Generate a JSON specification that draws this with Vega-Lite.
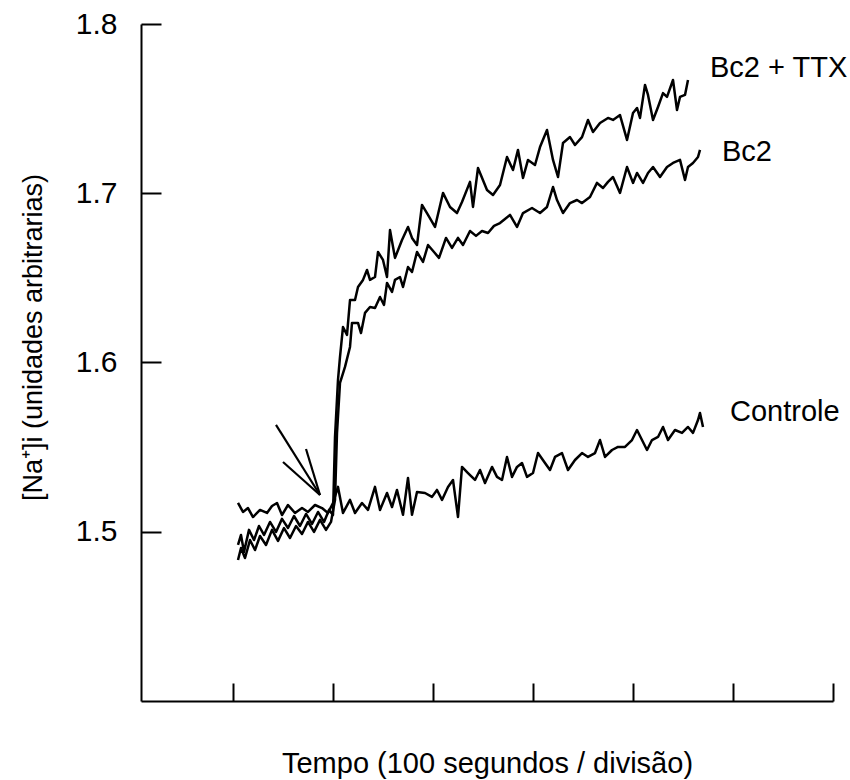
{
  "$schema": "https://vega.github.io/schema/vega-lite/v6.json",
  "width": 692,
  "height": 677,
  "autosize": {"type": "none"},
  "padding": {"left": 141, "top": 24, "right": 17, "bottom": 79},
  "background": "white",
  "config": {
    "view": {"stroke": null},
    "font": "Liberation Sans",
    "axis": {
      "grid": false,
      "domainColor": "black",
      "tickColor": "black",
      "labelColor": "black",
      "titleColor": "black",
      "domainWidth": 2,
      "tickWidth": 2,
      "labelFont": "Liberation Sans",
      "titleFont": "Liberation Sans",
      "titleFontWeight": "normal"
    }
  },
  "datasets": {
    "traces": [
      {"s":"c","t":5,"v":1.5170},{"s":"c","t":10,"v":1.5117},{"s":"c","t":15,"v":1.5140},{"s":"c","t":20,"v":1.5087},{"s":"c","t":27,"v":1.5129},{"s":"c","t":34,"v":1.5111},{"s":"c","t":39,"v":1.5152},{"s":"c","t":44,"v":1.5170},{"s":"c","t":49,"v":1.5099},{"s":"c","t":55,"v":1.5158},{"s":"c","t":62,"v":1.5111},{"s":"c","t":69,"v":1.5140},{"s":"c","t":75,"v":1.5117},{"s":"c","t":82,"v":1.5158},{"s":"c","t":89,"v":1.5140},{"s":"c","t":95,"v":1.5111},{"s":"c","t":100,"v":1.5170},{"s":"c","t":105,"v":1.5265},{"s":"c","t":110,"v":1.5111},{"s":"c","t":117,"v":1.5188},{"s":"c","t":122,"v":1.5111},{"s":"c","t":129,"v":1.5170},{"s":"c","t":135,"v":1.5129},{"s":"c","t":142,"v":1.5265},{"s":"c","t":147,"v":1.5129},{"s":"c","t":154,"v":1.5229},{"s":"c","t":159,"v":1.5146},{"s":"c","t":164,"v":1.5247},{"s":"c","t":170,"v":1.5100},{"s":"c","t":175,"v":1.5318},{"s":"c","t":179,"v":1.5100},{"s":"c","t":184,"v":1.5235},{"s":"c","t":192,"v":1.5229},{"s":"c","t":199,"v":1.5206},{"s":"c","t":204,"v":1.5247},{"s":"c","t":209,"v":1.5188},{"s":"c","t":215,"v":1.5265},{"s":"c","t":220,"v":1.5306},{"s":"c","t":225,"v":1.5087},{"s":"c","t":229,"v":1.5383},{"s":"c","t":235,"v":1.5347},{"s":"c","t":242,"v":1.5306},{"s":"c","t":247,"v":1.5365},{"s":"c","t":252,"v":1.5288},{"s":"c","t":259,"v":1.5383},{"s":"c","t":264,"v":1.5324},{"s":"c","t":269,"v":1.5306},{"s":"c","t":274,"v":1.5442},{"s":"c","t":279,"v":1.5324},{"s":"c","t":284,"v":1.5383},{"s":"c","t":289,"v":1.5406},{"s":"c","t":294,"v":1.5324},{"s":"c","t":300,"v":1.5347},{"s":"c","t":305,"v":1.5465},{"s":"c","t":312,"v":1.5406},{"s":"c","t":317,"v":1.5365},{"s":"c","t":322,"v":1.5442},{"s":"c","t":329,"v":1.5465},{"s":"c","t":335,"v":1.5365},{"s":"c","t":342,"v":1.5424},{"s":"c","t":349,"v":1.5465},{"s":"c","t":355,"v":1.5442},{"s":"c","t":362,"v":1.5465},{"s":"c","t":367,"v":1.5542},{"s":"c","t":372,"v":1.5442},{"s":"c","t":379,"v":1.5483},{"s":"c","t":385,"v":1.5501},{"s":"c","t":392,"v":1.5501},{"s":"c","t":399,"v":1.5542},{"s":"c","t":404,"v":1.5601},{"s":"c","t":409,"v":1.5542},{"s":"c","t":414,"v":1.5483},{"s":"c","t":419,"v":1.5542},{"s":"c","t":425,"v":1.5560},{"s":"c","t":430,"v":1.5619},{"s":"c","t":435,"v":1.5542},{"s":"c","t":442,"v":1.5601},{"s":"c","t":449,"v":1.5584},{"s":"c","t":455,"v":1.5619},{"s":"c","t":460,"v":1.5584},{"s":"c","t":465,"v":1.5660},{"s":"c","t":467,"v":1.5702},{"s":"c","t":470,"v":1.5619},
      {"s":"b","t":5,"v":1.4833},{"s":"b","t":8,"v":1.4904},{"s":"b","t":12,"v":1.4845},{"s":"b","t":17,"v":1.4951},{"s":"b","t":22,"v":1.4892},{"s":"b","t":27,"v":1.4975},{"s":"b","t":33,"v":1.4922},{"s":"b","t":39,"v":1.5011},{"s":"b","t":45,"v":1.4946},{"s":"b","t":51,"v":1.5022},{"s":"b","t":57,"v":1.4963},{"s":"b","t":63,"v":1.5034},{"s":"b","t":69,"v":1.4987},{"s":"b","t":75,"v":1.5058},{"s":"b","t":81,"v":1.4999},{"s":"b","t":87,"v":1.5070},{"s":"b","t":93,"v":1.5011},{"s":"b","t":98,"v":1.5058},{"s":"b","t":102,"v":1.5188},{"s":"b","t":104,"v":1.5584},{"s":"b","t":107,"v":1.5879},{"s":"b","t":112,"v":1.5974},{"s":"b","t":117,"v":1.6092},{"s":"b","t":119,"v":1.6234},{"s":"b","t":125,"v":1.6234},{"s":"b","t":128,"v":1.6174},{"s":"b","t":132,"v":1.6293},{"s":"b","t":137,"v":1.6328},{"s":"b","t":142,"v":1.6322},{"s":"b","t":147,"v":1.6387},{"s":"b","t":151,"v":1.6340},{"s":"b","t":154,"v":1.6470},{"s":"b","t":159,"v":1.6417},{"s":"b","t":162,"v":1.6488},{"s":"b","t":167,"v":1.6505},{"s":"b","t":170,"v":1.6446},{"s":"b","t":175,"v":1.6564},{"s":"b","t":179,"v":1.6535},{"s":"b","t":184,"v":1.6653},{"s":"b","t":190,"v":1.6594},{"s":"b","t":195,"v":1.6694},{"s":"b","t":201,"v":1.6653},{"s":"b","t":206,"v":1.6618},{"s":"b","t":213,"v":1.6736},{"s":"b","t":219,"v":1.6677},{"s":"b","t":225,"v":1.6736},{"s":"b","t":230,"v":1.6694},{"s":"b","t":237,"v":1.6777},{"s":"b","t":243,"v":1.6748},{"s":"b","t":249,"v":1.6777},{"s":"b","t":255,"v":1.6765},{"s":"b","t":261,"v":1.6807},{"s":"b","t":267,"v":1.6824},{"s":"b","t":272,"v":1.6848},{"s":"b","t":277,"v":1.6872},{"s":"b","t":284,"v":1.6801},{"s":"b","t":290,"v":1.6883},{"s":"b","t":299,"v":1.6913},{"s":"b","t":307,"v":1.6883},{"s":"b","t":314,"v":1.6919},{"s":"b","t":320,"v":1.7037},{"s":"b","t":324,"v":1.6960},{"s":"b","t":330,"v":1.6883},{"s":"b","t":337,"v":1.6942},{"s":"b","t":344,"v":1.6960},{"s":"b","t":349,"v":1.6942},{"s":"b","t":357,"v":1.6978},{"s":"b","t":364,"v":1.7061},{"s":"b","t":370,"v":1.7031},{"s":"b","t":375,"v":1.7067},{"s":"b","t":380,"v":1.7096},{"s":"b","t":387,"v":1.7002},{"s":"b","t":394,"v":1.7155},{"s":"b","t":400,"v":1.7061},{"s":"b","t":404,"v":1.7120},{"s":"b","t":410,"v":1.7061},{"s":"b","t":415,"v":1.7120},{"s":"b","t":420,"v":1.7155},{"s":"b","t":427,"v":1.7096},{"s":"b","t":434,"v":1.7155},{"s":"b","t":440,"v":1.7179},{"s":"b","t":447,"v":1.7197},{"s":"b","t":452,"v":1.7078},{"s":"b","t":455,"v":1.7155},{"s":"b","t":460,"v":1.7179},{"s":"b","t":465,"v":1.7214},{"s":"b","t":467,"v":1.7256},
      {"s":"x","t":5,"v":1.4922},{"s":"x","t":8,"v":1.4981},{"s":"x","t":11,"v":1.4881},{"s":"x","t":16,"v":1.5011},{"s":"x","t":21,"v":1.4951},{"s":"x","t":26,"v":1.5034},{"s":"x","t":31,"v":1.4981},{"s":"x","t":37,"v":1.5058},{"s":"x","t":43,"v":1.4999},{"s":"x","t":49,"v":1.5076},{"s":"x","t":55,"v":1.5022},{"s":"x","t":61,"v":1.5093},{"s":"x","t":67,"v":1.5034},{"s":"x","t":73,"v":1.5105},{"s":"x","t":79,"v":1.5046},{"s":"x","t":85,"v":1.5117},{"s":"x","t":91,"v":1.5058},{"s":"x","t":96,"v":1.5129},{"s":"x","t":100,"v":1.5099},{"s":"x","t":102,"v":1.5560},{"s":"x","t":105,"v":1.5897},{"s":"x","t":107,"v":1.6033},{"s":"x","t":110,"v":1.6210},{"s":"x","t":114,"v":1.6163},{"s":"x","t":117,"v":1.6369},{"s":"x","t":122,"v":1.6369},{"s":"x","t":125,"v":1.6446},{"s":"x","t":130,"v":1.6488},{"s":"x","t":134,"v":1.6547},{"s":"x","t":137,"v":1.6488},{"s":"x","t":142,"v":1.6505},{"s":"x","t":145,"v":1.6653},{"s":"x","t":150,"v":1.6606},{"s":"x","t":154,"v":1.6505},{"s":"x","t":157,"v":1.6783},{"s":"x","t":162,"v":1.6618},{"s":"x","t":169,"v":1.6724},{"s":"x","t":175,"v":1.6801},{"s":"x","t":179,"v":1.6736},{"s":"x","t":184,"v":1.6694},{"s":"x","t":189,"v":1.6931},{"s":"x","t":195,"v":1.6872},{"s":"x","t":202,"v":1.6801},{"s":"x","t":210,"v":1.7002},{"s":"x","t":217,"v":1.6919},{"s":"x","t":224,"v":1.6883},{"s":"x","t":229,"v":1.6948},{"s":"x","t":237,"v":1.7067},{"s":"x","t":240,"v":1.6919},{"s":"x","t":245,"v":1.7149},{"s":"x","t":254,"v":1.7019},{"s":"x","t":260,"v":1.6990},{"s":"x","t":267,"v":1.7049},{"s":"x","t":274,"v":1.7214},{"s":"x","t":280,"v":1.7137},{"s":"x","t":285,"v":1.7256},{"s":"x","t":290,"v":1.7090},{"s":"x","t":295,"v":1.7197},{"s":"x","t":302,"v":1.7167},{"s":"x","t":307,"v":1.7273},{"s":"x","t":314,"v":1.7374},{"s":"x","t":320,"v":1.7197},{"s":"x","t":325,"v":1.7096},{"s":"x","t":330,"v":1.7297},{"s":"x","t":337,"v":1.7332},{"s":"x","t":342,"v":1.7285},{"s":"x","t":349,"v":1.7332},{"s":"x","t":355,"v":1.7433},{"s":"x","t":360,"v":1.7362},{"s":"x","t":367,"v":1.7415},{"s":"x","t":375,"v":1.7445},{"s":"x","t":380,"v":1.7433},{"s":"x","t":387,"v":1.7462},{"s":"x","t":394,"v":1.7315},{"s":"x","t":400,"v":1.7474},{"s":"x","t":404,"v":1.7504},{"s":"x","t":407,"v":1.7445},{"s":"x","t":412,"v":1.7640},{"s":"x","t":415,"v":1.7581},{"s":"x","t":420,"v":1.7433},{"s":"x","t":425,"v":1.7510},{"s":"x","t":430,"v":1.7592},{"s":"x","t":434,"v":1.7569},{"s":"x","t":440,"v":1.7669},{"s":"x","t":444,"v":1.7492},{"s":"x","t":447,"v":1.7569},{"s":"x","t":452,"v":1.7581},{"s":"x","t":455,"v":1.7669}
    ],
    "arrow": [
      {"x1": 43, "y1": 1.5631, "x2": 87, "y2": 1.5217},
      {"x1": 50, "y1": 1.5412, "x2": 87, "y2": 1.5217},
      {"x1": 73, "y1": 1.5489, "x2": 87, "y2": 1.5217}
    ],
    "labels": [
      {"t": 477, "v": 1.774, "label": "Bc2 + TTX"},
      {"t": 489, "v": 1.7244, "label": "Bc2"},
      {"t": 497, "v": 1.5708, "label": "Controle"}
    ]
  },
  "layer": [
    {
      "data": {"name": "traces"},
      "mark": {"type": "line", "color": "black", "strokeWidth": 2.5, "strokeJoin": "round"},
      "encoding": {
        "x": {
          "field": "t", "type": "quantitative",
          "scale": {"domain": [-92, 600], "nice": false, "zero": false},
          "axis": {
            "values": [0, 100, 200, 300, 400, 500, 600],
            "labels": false,
            "tickSize": -18,
            "title": "Tempo (100 segundos / divisão)",
            "titleFontSize": 29,
            "titleBaseline": "alphabetic",
            "titleY": 71
          }
        },
        "y": {
          "field": "v", "type": "quantitative",
          "scale": {"domain": [1.4, 1.8], "nice": false, "zero": false},
          "axis": {
            "values": [1.5, 1.6, 1.7, 1.8],
            "format": ".1f",
            "tickSize": -20,
            "labelPadding": 44,
            "labelFontSize": 30,
            "labelBaseline": "middle",
            "title": "[Na⁺]i (unidades arbitrarias)",
            "titleFontSize": 27,
            "titleAngle": -90,
            "titleBaseline": "middle",
            "titleAlign": "center",
            "titleX": -108,
            "titleY": 313
          }
        },
        "detail": {"field": "s"}
      }
    },
    {
      "data": {"name": "arrow"},
      "mark": {"type": "rule", "color": "black", "strokeWidth": 2.2},
      "encoding": {
        "x": {"field": "x1", "type": "quantitative"},
        "y": {"field": "y1", "type": "quantitative"},
        "x2": {"field": "x2"},
        "y2": {"field": "y2"}
      }
    },
    {
      "data": {"name": "labels"},
      "mark": {"type": "text", "align": "left", "baseline": "middle", "fontSize": 29, "font": "Liberation Sans", "color": "black"},
      "encoding": {
        "x": {"field": "t", "type": "quantitative"},
        "y": {"field": "v", "type": "quantitative"},
        "text": {"field": "label"}
      }
    }
  ]
}
